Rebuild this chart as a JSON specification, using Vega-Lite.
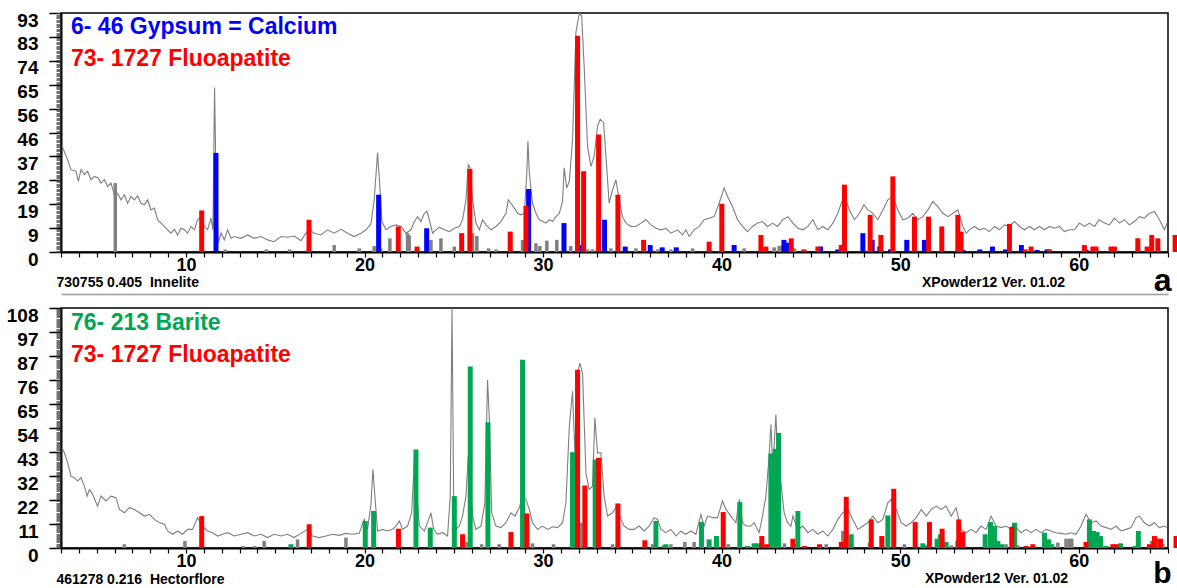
{
"$schema": "https://vega.github.io/schema/vega-lite/v6.json",
"padding": {"left": 5, "top": 10, "right": 0, "bottom": 0},
"config": {
  "font": "Liberation Sans",
  "view": {"stroke": "#000000", "strokeWidth": 1.5},
  "axis": {"labelColor": "#000000", "titleColor": "#000000", "labelFont": "Liberation Sans", "titleFont": "Liberation Sans"}
},
"datasets": {
"a_pattern": [{"t":3.06,"i":41.0},{"t":3.37,"i":35.8},{"t":3.56,"i":31.9},{"t":3.84,"i":31.3},{"t":3.97,"i":27.4},{"t":4.12,"i":31.9},{"t":4.31,"i":30.0},{"t":4.49,"i":31.3},{"t":4.68,"i":28.0},{"t":4.87,"i":29.3},{"t":5.09,"i":28.7},{"t":5.24,"i":26.7},{"t":5.43,"i":28.0},{"t":5.61,"i":25.4},{"t":5.80,"i":26.7},{"t":5.99,"i":22.2},{"t":6.17,"i":22.8},{"t":6.36,"i":20.2},{"t":6.55,"i":22.2},{"t":6.73,"i":18.9},{"t":6.92,"i":21.5},{"t":7.11,"i":20.2},{"t":7.29,"i":21.8},{"t":7.48,"i":18.9},{"t":7.67,"i":18.3},{"t":7.85,"i":20.2},{"t":8.04,"i":16.3},{"t":8.23,"i":17.0},{"t":8.41,"i":12.5},{"t":8.60,"i":11.2},{"t":8.79,"i":9.9},{"t":8.97,"i":8.6},{"t":9.16,"i":7.3},{"t":9.35,"i":8.8},{"t":9.53,"i":6.6},{"t":9.72,"i":9.2},{"t":9.91,"i":8.6},{"t":10.09,"i":7.3},{"t":10.28,"i":9.9},{"t":10.47,"i":8.6},{"t":10.65,"i":12.5},{"t":10.84,"i":13.7},{"t":11.03,"i":9.9},{"t":11.21,"i":8.6},{"t":11.40,"i":13.1},{"t":11.51,"i":8.6},{"t":11.60,"i":63.7},{"t":11.70,"i":20.2},{"t":11.81,"i":3.4},{"t":11.96,"i":7.3},{"t":12.15,"i":4.7},{"t":12.33,"i":8.6},{"t":12.52,"i":5.3},{"t":12.71,"i":6.0},{"t":13.08,"i":5.3},{"t":13.45,"i":6.6},{"t":13.82,"i":5.3},{"t":14.20,"i":6.0},{"t":14.57,"i":4.7},{"t":14.94,"i":4.0},{"t":15.32,"i":6.0},{"t":15.69,"i":5.7},{"t":16.06,"i":6.2},{"t":16.44,"i":4.4},{"t":16.72,"i":7.3},{"t":16.90,"i":8.6},{"t":17.18,"i":7.3},{"t":17.56,"i":6.6},{"t":17.93,"i":8.6},{"t":18.30,"i":7.3},{"t":18.68,"i":8.8},{"t":19.05,"i":7.3},{"t":19.42,"i":6.0},{"t":19.80,"i":7.3},{"t":20.08,"i":8.6},{"t":20.36,"i":10.9},{"t":20.54,"i":20.2},{"t":20.73,"i":38.4},{"t":20.86,"i":25.4},{"t":20.97,"i":11.8},{"t":21.20,"i":8.6},{"t":21.48,"i":9.9},{"t":21.76,"i":10.5},{"t":22.04,"i":9.9},{"t":22.32,"i":7.3},{"t":22.60,"i":8.6},{"t":22.79,"i":11.8},{"t":22.97,"i":13.7},{"t":23.16,"i":11.8},{"t":23.35,"i":15.0},{"t":23.50,"i":15.7},{"t":23.63,"i":12.5},{"t":23.81,"i":7.3},{"t":24.00,"i":8.6},{"t":24.19,"i":9.6},{"t":24.47,"i":8.6},{"t":24.75,"i":7.9},{"t":25.03,"i":9.2},{"t":25.31,"i":9.9},{"t":25.49,"i":12.5},{"t":25.68,"i":20.2},{"t":25.81,"i":33.9},{"t":25.92,"i":32.6},{"t":26.05,"i":20.2},{"t":26.24,"i":11.2},{"t":26.43,"i":8.6},{"t":26.61,"i":12.5},{"t":26.80,"i":10.5},{"t":27.08,"i":8.6},{"t":27.36,"i":9.9},{"t":27.64,"i":11.8},{"t":27.92,"i":15.0},{"t":28.05,"i":20.2},{"t":28.20,"i":18.9},{"t":28.39,"i":17.0},{"t":28.57,"i":15.0},{"t":28.76,"i":14.4},{"t":28.95,"i":15.0},{"t":29.09,"i":30.6},{"t":29.15,"i":42.9},{"t":29.23,"i":30.6},{"t":29.41,"i":18.9},{"t":29.60,"i":15.0},{"t":29.79,"i":12.5},{"t":29.97,"i":11.8},{"t":30.16,"i":11.2},{"t":30.35,"i":12.5},{"t":30.53,"i":11.8},{"t":30.72,"i":13.7},{"t":30.91,"i":15.0},{"t":31.09,"i":19.6},{"t":31.18,"i":32.6},{"t":31.32,"i":24.8},{"t":31.47,"i":27.4},{"t":31.65,"i":43.6},{"t":31.84,"i":85.1},{"t":32.03,"i":92.5},{"t":32.16,"i":91.5},{"t":32.30,"i":72.1},{"t":32.49,"i":41.0},{"t":32.68,"i":33.2},{"t":32.86,"i":37.1},{"t":33.05,"i":48.8},{"t":33.20,"i":51.4},{"t":33.39,"i":50.1},{"t":33.52,"i":37.1},{"t":33.70,"i":18.9},{"t":33.89,"i":24.1},{"t":34.08,"i":28.0},{"t":34.26,"i":20.2},{"t":34.45,"i":13.7},{"t":34.64,"i":11.2},{"t":34.92,"i":9.9},{"t":35.20,"i":9.9},{"t":35.48,"i":11.2},{"t":35.76,"i":12.5},{"t":36.04,"i":10.5},{"t":36.32,"i":9.2},{"t":36.60,"i":8.6},{"t":36.88,"i":9.2},{"t":37.16,"i":7.3},{"t":37.53,"i":8.6},{"t":37.81,"i":6.6},{"t":38.00,"i":8.6},{"t":38.18,"i":6.0},{"t":38.46,"i":8.6},{"t":38.74,"i":9.9},{"t":39.02,"i":12.5},{"t":39.30,"i":13.1},{"t":39.58,"i":13.7},{"t":39.86,"i":18.9},{"t":40.14,"i":24.8},{"t":40.33,"i":21.5},{"t":40.61,"i":17.6},{"t":40.89,"i":12.5},{"t":41.17,"i":9.9},{"t":41.45,"i":7.9},{"t":41.73,"i":9.9},{"t":42.01,"i":11.2},{"t":42.29,"i":11.8},{"t":42.57,"i":9.9},{"t":42.85,"i":11.2},{"t":43.13,"i":9.9},{"t":43.43,"i":12.5},{"t":43.71,"i":13.7},{"t":43.99,"i":11.2},{"t":44.27,"i":9.2},{"t":44.55,"i":8.6},{"t":44.83,"i":9.9},{"t":45.11,"i":12.5},{"t":45.39,"i":8.6},{"t":45.67,"i":9.9},{"t":45.95,"i":8.6},{"t":46.23,"i":11.2},{"t":46.51,"i":15.0},{"t":46.70,"i":18.9},{"t":46.88,"i":21.5},{"t":47.16,"i":16.3},{"t":47.44,"i":12.5},{"t":47.72,"i":15.0},{"t":47.97,"i":18.3},{"t":48.19,"i":16.3},{"t":48.47,"i":15.0},{"t":48.75,"i":12.5},{"t":49.03,"i":16.3},{"t":49.31,"i":20.2},{"t":49.59,"i":21.5},{"t":49.87,"i":16.3},{"t":50.15,"i":12.5},{"t":50.43,"i":13.1},{"t":50.71,"i":15.0},{"t":50.99,"i":12.5},{"t":51.27,"i":13.7},{"t":51.55,"i":16.3},{"t":51.83,"i":19.6},{"t":52.11,"i":17.6},{"t":52.39,"i":15.0},{"t":52.67,"i":13.7},{"t":52.95,"i":15.0},{"t":53.23,"i":16.3},{"t":53.51,"i":9.9},{"t":53.70,"i":7.3},{"t":53.88,"i":8.6},{"t":54.16,"i":9.9},{"t":54.44,"i":8.6},{"t":54.72,"i":9.2},{"t":55.00,"i":7.9},{"t":55.28,"i":9.9},{"t":55.56,"i":8.6},{"t":55.84,"i":10.5},{"t":56.12,"i":9.9},{"t":56.40,"i":11.8},{"t":56.68,"i":9.9},{"t":56.96,"i":8.6},{"t":57.24,"i":9.9},{"t":57.52,"i":8.6},{"t":57.80,"i":9.9},{"t":58.08,"i":8.6},{"t":58.36,"i":9.9},{"t":58.64,"i":9.2},{"t":58.92,"i":9.9},{"t":59.20,"i":7.9},{"t":59.48,"i":8.6},{"t":59.76,"i":8.6},{"t":60.04,"i":11.2},{"t":60.32,"i":9.9},{"t":60.60,"i":11.2},{"t":60.88,"i":9.9},{"t":61.16,"i":12.5},{"t":61.44,"i":11.2},{"t":61.72,"i":10.5},{"t":62.00,"i":13.1},{"t":62.28,"i":11.2},{"t":62.56,"i":12.5},{"t":62.84,"i":10.5},{"t":63.12,"i":11.8},{"t":63.40,"i":13.7},{"t":63.68,"i":13.1},{"t":63.96,"i":15.0},{"t":64.24,"i":15.7},{"t":64.52,"i":12.5},{"t":64.80,"i":8.6},{"t":64.95,"i":11.2}],
"a_ref": [{"t":6.04,"i":26.7},{"t":12.2,"i":1.0},{"t":14.5,"i":1.0},{"t":15.8,"i":1.0},{"t":16.8,"i":0.8},{"t":18.30,"i":2.7},{"t":19.7,"i":1.4},{"t":20.54,"i":2.3},{"t":20.9,"i":1.4},{"t":21.42,"i":5.3},{"t":22.41,"i":7.3},{"t":22.50,"i":6.5},{"t":23.72,"i":4.7},{"t":24.28,"i":5.3},{"t":25.03,"i":2.1},{"t":26.05,"i":7.3},{"t":26.29,"i":6.2},{"t":26.95,"i":1.4},{"t":27.36,"i":1.0},{"t":28.85,"i":4.7},{"t":29.60,"i":3.4},{"t":29.82,"i":2.3},{"t":30.21,"i":4.4},{"t":30.77,"i":4.7},{"t":31.55,"i":2.3},{"t":32.49,"i":1.0},{"t":32.77,"i":1.0},{"t":33.80,"i":1.4},{"t":35.20,"i":1.4},{"t":36.41,"i":1.0},{"t":37.16,"i":1.0},{"t":38.37,"i":1.4},{"t":41.26,"i":1.4},{"t":42.94,"i":1.8},{"t":43.22,"i":2.3},{"t":43.41,"i":2.7},{"t":44.08,"i":1.4}],
"a_peaks": [{"t":11.68,"i":38.4,"phase":"Gypsum"},{"t":20.79,"i":22.2,"phase":"Gypsum"},{"t":23.48,"i":9.2,"phase":"Gypsum"},{"t":29.19,"i":24.4,"phase":"Gypsum"},{"t":31.17,"i":11.2,"phase":"Gypsum"},{"t":32.06,"i":2.7,"phase":"Gypsum"},{"t":33.44,"i":12.5,"phase":"Gypsum"},{"t":34.60,"i":2.1,"phase":"Gypsum"},{"t":36.00,"i":2.7,"phase":"Gypsum"},{"t":36.67,"i":1.8,"phase":"Gypsum"},{"t":37.46,"i":1.8,"phase":"Gypsum"},{"t":40.70,"i":2.7,"phase":"Gypsum"},{"t":43.49,"i":4.7,"phase":"Gypsum"},{"t":43.69,"i":3.6,"phase":"Gypsum"},{"t":45.54,"i":2.1,"phase":"Gypsum"},{"t":46.51,"i":1.0,"phase":"Gypsum"},{"t":47.91,"i":7.3,"phase":"Gypsum"},{"t":48.43,"i":4.7,"phase":"Gypsum"},{"t":48.86,"i":2.1,"phase":"Gypsum"},{"t":49.46,"i":1.0,"phase":"Gypsum"},{"t":50.37,"i":4.7,"phase":"Gypsum"},{"t":51.36,"i":4.7,"phase":"Gypsum"},{"t":53.51,"i":0.8,"phase":"Gypsum"},{"t":54.46,"i":1.0,"phase":"Gypsum"},{"t":55.17,"i":2.1,"phase":"Gypsum"},{"t":55.90,"i":1.0,"phase":"Gypsum"},{"t":56.79,"i":2.7,"phase":"Gypsum"},{"t":57.67,"i":0.8,"phase":"Gypsum"},{"t":58.23,"i":1.0,"phase":"Gypsum"},{"t":60.41,"i":0.8,"phase":"Gypsum"},{"t":60.92,"i":0.8,"phase":"Gypsum"},
{"t":10.88,"i":16.1,"phase":"Fluoapatite"},{"t":16.89,"i":12.5,"phase":"Fluoapatite"},{"t":21.89,"i":9.9,"phase":"Fluoapatite"},{"t":22.94,"i":2.1,"phase":"Fluoapatite"},{"t":25.44,"i":7.3,"phase":"Fluoapatite"},{"t":25.90,"i":32.2,"phase":"Fluoapatite"},{"t":28.16,"i":7.9,"phase":"Fluoapatite"},{"t":29.04,"i":17.9,"phase":"Fluoapatite"},{"t":31.93,"i":83.8,"phase":"Fluoapatite"},{"t":32.27,"i":31.3,"phase":"Fluoapatite"},{"t":33.11,"i":45.5,"phase":"Fluoapatite"},{"t":34.19,"i":22.2,"phase":"Fluoapatite"},{"t":35.63,"i":4.7,"phase":"Fluoapatite"},{"t":39.30,"i":4.0,"phase":"Fluoapatite"},{"t":40.01,"i":18.7,"phase":"Fluoapatite"},{"t":42.20,"i":6.6,"phase":"Fluoapatite"},{"t":42.48,"i":2.1,"phase":"Fluoapatite"},{"t":43.90,"i":5.3,"phase":"Fluoapatite"},{"t":44.61,"i":1.0,"phase":"Fluoapatite"},{"t":45.39,"i":2.1,"phase":"Fluoapatite"},{"t":46.70,"i":2.7,"phase":"Fluoapatite"},{"t":46.88,"i":26.1,"phase":"Fluoapatite"},{"t":48.32,"i":14.4,"phase":"Fluoapatite"},{"t":48.92,"i":6.6,"phase":"Fluoapatite"},{"t":49.59,"i":29.3,"phase":"Fluoapatite"},{"t":50.80,"i":13.7,"phase":"Fluoapatite"},{"t":51.59,"i":13.7,"phase":"Fluoapatite"},{"t":52.33,"i":9.9,"phase":"Fluoapatite"},{"t":53.23,"i":14.4,"phase":"Fluoapatite"},{"t":53.41,"i":7.9,"phase":"Fluoapatite"},{"t":56.12,"i":10.9,"phase":"Fluoapatite"},{"t":57.00,"i":1.0,"phase":"Fluoapatite"},{"t":57.33,"i":2.1,"phase":"Fluoapatite"},{"t":58.36,"i":1.0,"phase":"Fluoapatite"},{"t":60.32,"i":2.7,"phase":"Fluoapatite"},{"t":60.79,"i":2.1,"phase":"Fluoapatite"},{"t":60.97,"i":2.1,"phase":"Fluoapatite"},{"t":61.81,"i":2.1,"phase":"Fluoapatite"},{"t":62.00,"i":2.1,"phase":"Fluoapatite"},{"t":63.31,"i":5.3,"phase":"Fluoapatite"},{"t":63.83,"i":2.1,"phase":"Fluoapatite"},{"t":64.09,"i":6.6,"phase":"Fluoapatite"},{"t":64.43,"i":5.3,"phase":"Fluoapatite"},{"t":65.40,"i":6.6,"phase":"Fluoapatite"}],
"b_pattern": [{"t":3.06,"i":45.2},{"t":3.19,"i":42.9},{"t":3.37,"i":38.4},{"t":3.56,"i":32.4},{"t":3.75,"i":31.7},{"t":3.93,"i":30.2},{"t":4.12,"i":31.7},{"t":4.31,"i":27.9},{"t":4.46,"i":23.4},{"t":4.59,"i":26.4},{"t":4.77,"i":24.2},{"t":5.05,"i":18.9},{"t":5.24,"i":23.4},{"t":5.52,"i":21.2},{"t":5.80,"i":23.4},{"t":6.08,"i":22.7},{"t":6.27,"i":17.4},{"t":6.55,"i":15.9},{"t":6.83,"i":18.2},{"t":7.11,"i":17.4},{"t":7.39,"i":15.9},{"t":7.67,"i":14.4},{"t":7.95,"i":15.2},{"t":8.23,"i":12.9},{"t":8.51,"i":11.4},{"t":8.79,"i":10.7},{"t":8.97,"i":7.7},{"t":9.25,"i":6.2},{"t":9.53,"i":7.7},{"t":9.81,"i":6.2},{"t":10.09,"i":8.4},{"t":10.37,"i":8.4},{"t":10.65,"i":13.7},{"t":10.93,"i":9.9},{"t":11.21,"i":7.7},{"t":11.49,"i":6.9},{"t":11.77,"i":5.4},{"t":12.05,"i":6.2},{"t":12.33,"i":6.9},{"t":12.71,"i":5.4},{"t":13.08,"i":6.2},{"t":13.45,"i":6.9},{"t":13.82,"i":5.4},{"t":14.20,"i":6.2},{"t":14.57,"i":4.7},{"t":14.94,"i":6.2},{"t":15.32,"i":5.4},{"t":15.69,"i":6.2},{"t":16.06,"i":4.7},{"t":16.44,"i":6.6},{"t":16.81,"i":8.4},{"t":17.09,"i":5.4},{"t":17.46,"i":4.7},{"t":17.84,"i":5.4},{"t":18.21,"i":6.2},{"t":18.58,"i":5.7},{"t":18.96,"i":6.6},{"t":19.33,"i":6.2},{"t":19.70,"i":6.6},{"t":19.98,"i":12.9},{"t":20.17,"i":8.4},{"t":20.36,"i":19.7},{"t":20.47,"i":35.4},{"t":20.58,"i":23.4},{"t":20.73,"i":7.7},{"t":21.01,"i":8.4},{"t":21.29,"i":7.7},{"t":21.57,"i":8.4},{"t":21.76,"i":9.9},{"t":21.95,"i":12.2},{"t":22.13,"i":8.4},{"t":22.41,"i":9.9},{"t":22.64,"i":15.9},{"t":22.82,"i":44.4},{"t":22.94,"i":23.4},{"t":23.07,"i":9.9},{"t":23.35,"i":7.7},{"t":23.63,"i":13.7},{"t":23.72,"i":15.9},{"t":23.87,"i":8.4},{"t":24.09,"i":6.2},{"t":24.37,"i":6.9},{"t":24.65,"i":5.4},{"t":24.80,"i":23.4},{"t":24.90,"i":108},{"t":24.99,"i":23.4},{"t":25.12,"i":8.4},{"t":25.31,"i":9.9},{"t":25.49,"i":14.4},{"t":25.68,"i":23.4},{"t":25.81,"i":41.4},{"t":25.92,"i":29.4},{"t":26.05,"i":14.4},{"t":26.24,"i":8.4},{"t":26.52,"i":9.9},{"t":26.74,"i":20.4},{"t":26.89,"i":75.9},{"t":27.00,"i":56.4},{"t":27.12,"i":15.9},{"t":27.36,"i":9.9},{"t":27.64,"i":9.2},{"t":27.92,"i":11.4},{"t":28.20,"i":15.9},{"t":28.42,"i":14.4},{"t":28.67,"i":18.2},{"t":28.85,"i":23.4},{"t":29.04,"i":21.9},{"t":29.23,"i":17.4},{"t":29.41,"i":11.4},{"t":29.69,"i":8.4},{"t":29.97,"i":9.9},{"t":30.25,"i":8.4},{"t":30.53,"i":9.6},{"t":30.81,"i":9.2},{"t":31.09,"i":11.4},{"t":31.28,"i":20.4},{"t":31.47,"i":54.9},{"t":31.65,"i":70.7},{"t":31.78,"i":42.9},{"t":31.93,"i":78.9},{"t":32.06,"i":83.4},{"t":32.21,"i":78.9},{"t":32.40,"i":33.9},{"t":32.58,"i":26.4},{"t":32.77,"i":27.9},{"t":32.90,"i":58.7},{"t":33.05,"i":42.9},{"t":33.24,"i":42.9},{"t":33.42,"i":23.4},{"t":33.61,"i":14.4},{"t":33.89,"i":15.9},{"t":34.13,"i":18.9},{"t":34.36,"i":12.9},{"t":34.54,"i":9.9},{"t":34.82,"i":8.4},{"t":35.10,"i":8.4},{"t":35.38,"i":9.9},{"t":35.66,"i":7.7},{"t":35.94,"i":9.9},{"t":36.22,"i":13.7},{"t":36.41,"i":12.9},{"t":36.60,"i":8.4},{"t":36.88,"i":6.9},{"t":37.16,"i":8.4},{"t":37.44,"i":5.4},{"t":37.72,"i":7.7},{"t":37.99,"i":6.2},{"t":38.28,"i":7.7},{"t":38.56,"i":6.2},{"t":38.84,"i":15.2},{"t":39.02,"i":9.9},{"t":39.21,"i":14.4},{"t":39.49,"i":13.7},{"t":39.77,"i":13.7},{"t":40.05,"i":21.2},{"t":40.24,"i":17.4},{"t":40.52,"i":14.4},{"t":40.80,"i":11.4},{"t":40.99,"i":21.9},{"t":41.17,"i":11.4},{"t":41.36,"i":9.9},{"t":41.64,"i":9.9},{"t":41.82,"i":11.4},{"t":42.10,"i":6.9},{"t":42.29,"i":14.4},{"t":42.48,"i":23.4},{"t":42.66,"i":41.4},{"t":42.76,"i":55.7},{"t":42.85,"i":38.4},{"t":42.94,"i":45.9},{"t":43.04,"i":60.2},{"t":43.13,"i":42.9},{"t":43.32,"i":29.4},{"t":43.50,"i":15.9},{"t":43.69,"i":11.4},{"t":43.88,"i":9.9},{"t":43.99,"i":14.4},{"t":44.27,"i":8.4},{"t":44.55,"i":9.9},{"t":44.83,"i":6.9},{"t":45.11,"i":8.4},{"t":45.39,"i":6.2},{"t":45.67,"i":7.7},{"t":45.95,"i":5.4},{"t":46.23,"i":8.4},{"t":46.51,"i":12.9},{"t":46.79,"i":15.9},{"t":47.07,"i":17.4},{"t":47.35,"i":12.9},{"t":47.63,"i":8.4},{"t":47.91,"i":9.9},{"t":48.19,"i":11.4},{"t":48.47,"i":14.4},{"t":48.75,"i":11.4},{"t":49.03,"i":12.9},{"t":49.31,"i":20.4},{"t":49.50,"i":21.9},{"t":49.78,"i":17.4},{"t":50.06,"i":11.4},{"t":50.33,"i":9.9},{"t":50.62,"i":11.4},{"t":50.90,"i":13.7},{"t":51.18,"i":17.4},{"t":51.46,"i":14.4},{"t":51.74,"i":17.4},{"t":52.02,"i":18.9},{"t":52.30,"i":17.4},{"t":52.57,"i":18.9},{"t":52.86,"i":14.4},{"t":53.13,"i":18.2},{"t":53.41,"i":8.4},{"t":53.70,"i":6.9},{"t":53.97,"i":8.4},{"t":54.25,"i":6.9},{"t":54.53,"i":9.9},{"t":54.81,"i":8.4},{"t":55.09,"i":14.4},{"t":55.37,"i":9.9},{"t":55.66,"i":9.2},{"t":55.94,"i":9.9},{"t":56.21,"i":8.4},{"t":56.49,"i":9.2},{"t":56.77,"i":6.9},{"t":57.05,"i":8.4},{"t":57.33,"i":6.9},{"t":57.61,"i":8.4},{"t":57.89,"i":6.9},{"t":58.17,"i":8.4},{"t":58.45,"i":7.7},{"t":58.73,"i":6.9},{"t":59.01,"i":6.6},{"t":59.29,"i":6.2},{"t":59.57,"i":6.9},{"t":59.85,"i":6.2},{"t":60.13,"i":9.9},{"t":60.41,"i":15.2},{"t":60.69,"i":11.4},{"t":60.97,"i":12.2},{"t":61.25,"i":9.9},{"t":61.53,"i":9.2},{"t":61.81,"i":8.4},{"t":62.09,"i":9.9},{"t":62.37,"i":7.7},{"t":62.65,"i":8.4},{"t":62.93,"i":9.2},{"t":63.21,"i":13.7},{"t":63.40,"i":14.4},{"t":63.68,"i":11.4},{"t":63.96,"i":9.9},{"t":64.24,"i":11.4},{"t":64.52,"i":9.2},{"t":64.80,"i":9.9},{"t":64.93,"i":9.2}],
"b_ref": [{"t":6.55,"i":1.7},{"t":9.94,"i":3.2},{"t":13.2,"i":0.9},{"t":13.85,"i":0.9},{"t":14.38,"i":3.2},{"t":16.25,"i":3.9},{"t":18.96,"i":4.7},{"t":25.74,"i":2.7},{"t":26.56,"i":1.7},{"t":27.54,"i":1.7},{"t":29.41,"i":2.1},{"t":30.59,"i":1.7},{"t":32.12,"i":11.4},{"t":33.89,"i":1.7},{"t":36.13,"i":1.7},{"t":37.16,"i":1.7},{"t":37.94,"i":2.7},{"t":38.46,"i":2.7},{"t":40.37,"i":1.7},{"t":43.52,"i":2.1},{"t":44.08,"i":1.7},{"t":45.86,"i":1.7},{"t":46.79,"i":7.7},{"t":48.28,"i":2.4},{"t":50.24,"i":1.7},{"t":52.86,"i":1.2},{"t":55.93,"i":1.7},{"t":56.59,"i":1.2},{"t":58.83,"i":2.4},{"t":59.29,"i":4.2},{"t":59.48,"i":4.2},{"t":59.61,"i":4.2},{"t":64.71,"i":1.7}],
"b_peaks": [{"t":15.88,"i":1.7,"phase":"Barite"},{"t":20.04,"i":12.2,"phase":"Barite"},{"t":20.51,"i":16.7,"phase":"Barite"},{"t":22.88,"i":44.4,"phase":"Barite"},{"t":23.68,"i":9.2,"phase":"Barite"},{"t":25.03,"i":23.4,"phase":"Barite"},{"t":25.92,"i":81.9,"phase":"Barite"},{"t":26.91,"i":56.7,"phase":"Barite"},{"t":28.85,"i":84.9,"phase":"Barite"},{"t":31.65,"i":43.2,"phase":"Barite"},{"t":32.30,"i":0.9,"phase":"Barite"},{"t":32.92,"i":39.9,"phase":"Barite"},{"t":36.32,"i":12.2,"phase":"Barite"},{"t":36.78,"i":1.2,"phase":"Barite"},{"t":36.88,"i":1.7,"phase":"Barite"},{"t":38.87,"i":11.7,"phase":"Barite"},{"t":39.30,"i":3.9,"phase":"Barite"},{"t":39.71,"i":5.4,"phase":"Barite"},{"t":41.02,"i":20.7,"phase":"Barite"},{"t":41.45,"i":0.9,"phase":"Barite"},{"t":41.82,"i":2.1,"phase":"Barite"},{"t":42.01,"i":2.1,"phase":"Barite"},{"t":42.76,"i":42.6,"phase":"Barite"},{"t":43.00,"i":44.7,"phase":"Barite"},{"t":43.19,"i":51.9,"phase":"Barite"},{"t":44.27,"i":16.7,"phase":"Barite"},{"t":47.26,"i":6.2,"phase":"Barite"},{"t":49.31,"i":14.7,"phase":"Barite"},{"t":51.27,"i":2.1,"phase":"Barite"},{"t":51.49,"i":1.2,"phase":"Barite"},{"t":52.07,"i":4.2,"phase":"Barite"},{"t":52.26,"i":6.2,"phase":"Barite"},{"t":52.57,"i":2.7,"phase":"Barite"},{"t":53.23,"i":3.2,"phase":"Barite"},{"t":53.41,"i":2.7,"phase":"Barite"},{"t":54.76,"i":6.2,"phase":"Barite"},{"t":55.06,"i":11.7,"phase":"Barite"},{"t":55.28,"i":9.9,"phase":"Barite"},{"t":55.47,"i":3.2,"phase":"Barite"},{"t":55.69,"i":1.7,"phase":"Barite"},{"t":56.40,"i":11.4,"phase":"Barite"},{"t":58.08,"i":6.9,"phase":"Barite"},{"t":58.31,"i":3.9,"phase":"Barite"},{"t":58.49,"i":1.7,"phase":"Barite"},{"t":60.60,"i":12.9,"phase":"Barite"},{"t":60.84,"i":7.7,"phase":"Barite"},{"t":61.03,"i":7.2,"phase":"Barite"},{"t":61.22,"i":5.4,"phase":"Barite"},{"t":61.53,"i":0.9,"phase":"Barite"},{"t":62.34,"i":2.1,"phase":"Barite"},{"t":63.16,"i":0.9,"phase":"Barite"},{"t":63.34,"i":7.7,"phase":"Barite"},{"t":64.15,"i":3.2,"phase":"Barite"},{"t":64.30,"i":4.7,"phase":"Barite"},
{"t":10.88,"i":14.4,"phase":"Fluoapatite"},{"t":16.90,"i":10.7,"phase":"Fluoapatite"},{"t":21.90,"i":8.7,"phase":"Fluoapatite"},{"t":25.49,"i":6.2,"phase":"Fluoapatite"},{"t":28.20,"i":7.2,"phase":"Fluoapatite"},{"t":29.09,"i":15.6,"phase":"Fluoapatite"},{"t":31.93,"i":80.4,"phase":"Fluoapatite"},{"t":32.34,"i":28.2,"phase":"Fluoapatite"},{"t":33.11,"i":40.7,"phase":"Fluoapatite"},{"t":34.19,"i":20.1,"phase":"Fluoapatite"},{"t":35.70,"i":3.5,"phase":"Fluoapatite"},{"t":40.09,"i":16.2,"phase":"Fluoapatite"},{"t":42.25,"i":5.4,"phase":"Fluoapatite"},{"t":42.53,"i":1.7,"phase":"Fluoapatite"},{"t":43.99,"i":4.2,"phase":"Fluoapatite"},{"t":44.64,"i":0.9,"phase":"Fluoapatite"},{"t":45.48,"i":1.7,"phase":"Fluoapatite"},{"t":46.70,"i":2.7,"phase":"Fluoapatite"},{"t":46.98,"i":23.1,"phase":"Fluoapatite"},{"t":48.38,"i":12.9,"phase":"Fluoapatite"},{"t":48.97,"i":5.4,"phase":"Fluoapatite"},{"t":49.64,"i":26.7,"phase":"Fluoapatite"},{"t":50.84,"i":11.7,"phase":"Fluoapatite"},{"t":51.64,"i":11.7,"phase":"Fluoapatite"},{"t":52.35,"i":8.7,"phase":"Fluoapatite"},{"t":53.28,"i":12.9,"phase":"Fluoapatite"},{"t":53.51,"i":7.2,"phase":"Fluoapatite"},{"t":56.25,"i":9.6,"phase":"Fluoapatite"},{"t":57.05,"i":0.9,"phase":"Fluoapatite"},{"t":57.43,"i":1.7,"phase":"Fluoapatite"},{"t":60.41,"i":2.7,"phase":"Fluoapatite"},{"t":61.91,"i":1.7,"phase":"Fluoapatite"},{"t":62.09,"i":1.7,"phase":"Fluoapatite"},{"t":63.96,"i":1.7,"phase":"Fluoapatite"},{"t":64.24,"i":5.4,"phase":"Fluoapatite"},{"t":64.58,"i":4.2,"phase":"Fluoapatite"},{"t":65.45,"i":5.4,"phase":"Fluoapatite"}]
},
"spacing": 8,
"vconcat": [
{
  "width": 1107, "height": 239,
  "title": {"text": "6- 46 Gypsum = Calcium", "subtitle": "73- 1727 Fluoapatite", "anchor": "start", "frame": "group", "orient": "top", "offset": -60, "dx": 10, "color": "#0000ff", "subtitleColor": "#ff0000", "fontSize": 23, "subtitleFontSize": 23, "fontWeight": "bold", "subtitleFontWeight": "bold", "font": "Liberation Sans", "subtitleFont": "Liberation Sans", "subtitlePadding": 9},
  "resolve": {"axis": {"x": "independent", "y": "independent"}},
  "layer": [
    {
      "data": {"name": "a_ref"},
      "mark": {"type": "rule", "color": "#808080", "strokeWidth": 3.5},
      "encoding": {
        "x": {"field": "t", "type": "quantitative", "scale": {"domain": [3, 65], "nice": false, "zero": false},
              "axis": {"orient": "bottom", "labels": false, "ticks": false, "domain": false, "grid": false, "title": "a", "titleAlign": "right", "titleAnchor": "start", "titleX": 1110, "titleY": 38, "titleBaseline": "alphabetic", "titleFontSize": 32, "titleFontWeight": "bold"}},
        "y": {"field": "i", "type": "quantitative", "scale": {"domain": [0, 92.6], "nice": false}, "axis": null},
        "y2": {"datum": 0}
      }
    },
    {
      "data": {"name": "a_pattern"},
      "mark": {"type": "line", "color": "#7f7f7f", "strokeWidth": 1.1},
      "encoding": {
        "x": {"field": "t", "type": "quantitative",
              "axis": {"orient": "bottom", "values": [3,4,5,6,7,8,9,10,11,12,13,14,15,16,17,18,19,20,21,22,23,24,25,26,27,28,29,30,31,32,33,34,35,36,37,38,39,40,41,42,43,44,45,46,47,48,49,50,51,52,53,54,55,56,57,58,59,60,61,62,63,64,65], "labelExpr": "datum.value % 10 === 0 ? datum.label : ''", "labelOverlap": false, "labelFlush": false, "tickSize": 5, "tickWidth": 1.2, "tickColor": "#000000", "labelPadding": -1, "labelFontSize": 18, "labelFontWeight": "bold", "domain": true, "domainColor": "#000000", "domainWidth": 2, "grid": false, "title": "730755 0.405\u00a0 Innelite", "titleAnchor": "start", "titleAlign": "left", "titleX": -5, "titleY": 34, "titleBaseline": "alphabetic", "titleFontSize": 14, "titleFontWeight": "bold"}},
        "y": {"field": "i", "type": "quantitative",
              "axis": {"orient": "left", "values": [0, 9.26, 18.52, 27.78, 37.04, 46.3, 55.56, 64.82, 74.08, 83.34, 92.6], "format": ".0f", "tickSize": 12, "tickWidth": 1.5, "tickColor": "#000000", "labelPadding": 11, "labelOffset": 7, "labelFontSize": 19, "labelFontWeight": "bold", "labelFlush": false, "labelOverlap": false, "domain": true, "domainWidth": 2, "domainColor": "#000000", "grid": false, "title": null}}
      }
    },
    {
      "data": {"name": "a_peaks"},
      "transform": [{"filter": "datum.phase === 'Gypsum'"}],
      "mark": {"type": "rule", "strokeWidth": 5},
      "encoding": {
        "x": {"field": "t", "type": "quantitative",
              "axis": {"orient": "bottom", "labels": false, "ticks": false, "domain": false, "grid": false, "title": "XPowder12 Ver. 01.02", "titleAlign": "center", "titleAnchor": "start", "titleX": 932, "titleY": 34, "titleBaseline": "alphabetic", "titleFontSize": 14, "titleFontWeight": "bold"}},
        "y": {"field": "i", "type": "quantitative",
              "axis": {"orient": "left", "tickCount": 200, "labels": false, "domain": false, "grid": false, "tickSize": 5, "tickWidth": 0.7, "tickColor": "#333333", "title": null}},
        "y2": {"datum": 0},
        "color": {"field": "phase", "type": "nominal", "scale": {"domain": ["Gypsum", "Fluoapatite", "Barite"], "range": ["#0000ff", "#ff0000", "#00a651"]}, "legend": null}
      }
    },
    {
      "data": {"name": "a_peaks"},
      "transform": [{"filter": "datum.phase === 'Fluoapatite'"}],
      "mark": {"type": "rule", "strokeWidth": 5},
      "encoding": {
        "x": {"field": "t", "type": "quantitative",
              "axis": {"orient": "bottom", "offset": 42, "labels": false, "ticks": false, "domain": true, "domainColor": "#9a9a9a", "domainWidth": 1.5, "grid": false, "title": null}},
        "y": {"field": "i", "type": "quantitative", "axis": null},
        "y2": {"datum": 0},
        "color": {"field": "phase", "type": "nominal", "legend": null}
      }
    }
  ]
},
{
  "width": 1107, "height": 240,
  "title": {"text": "76- 213 Barite", "subtitle": "73- 1727 Fluoapatite", "anchor": "start", "frame": "group", "orient": "top", "offset": -61, "dx": 10, "color": "#00a651", "subtitleColor": "#ff0000", "fontSize": 23, "subtitleFontSize": 23, "fontWeight": "bold", "subtitleFontWeight": "bold", "font": "Liberation Sans", "subtitleFont": "Liberation Sans", "subtitlePadding": 9},
  "resolve": {"axis": {"x": "independent", "y": "independent"}},
  "layer": [
    {
      "data": {"name": "b_ref"},
      "mark": {"type": "rule", "color": "#808080", "strokeWidth": 3.5},
      "encoding": {
        "x": {"field": "t", "type": "quantitative", "scale": {"domain": [3, 65], "nice": false, "zero": false},
              "axis": {"orient": "bottom", "labels": false, "ticks": false, "domain": false, "grid": false, "title": "b", "titleAlign": "right", "titleAnchor": "start", "titleX": 1110, "titleY": 34, "titleBaseline": "alphabetic", "titleFontSize": 30, "titleFontWeight": "bold"}},
        "y": {"field": "i", "type": "quantitative", "scale": {"domain": [0, 108.25], "nice": false}, "axis": null},
        "y2": {"datum": 0}
      }
    },
    {
      "data": {"name": "b_pattern"},
      "mark": {"type": "line", "color": "#7f7f7f", "strokeWidth": 1.1},
      "encoding": {
        "x": {"field": "t", "type": "quantitative",
              "axis": {"orient": "bottom", "values": [3,4,5,6,7,8,9,10,11,12,13,14,15,16,17,18,19,20,21,22,23,24,25,26,27,28,29,30,31,32,33,34,35,36,37,38,39,40,41,42,43,44,45,46,47,48,49,50,51,52,53,54,55,56,57,58,59,60,61,62,63,64,65], "labelExpr": "datum.value % 10 === 0 ? datum.label : ''", "labelOverlap": false, "labelFlush": false, "tickSize": 5, "tickWidth": 1.2, "tickColor": "#000000", "labelPadding": -1, "labelFontSize": 18, "labelFontWeight": "bold", "domain": true, "domainColor": "#000000", "domainWidth": 2, "grid": false, "title": "461278 0.216\u00a0 Hectorflore", "titleAnchor": "start", "titleAlign": "left", "titleX": -5, "titleY": 35, "titleBaseline": "alphabetic", "titleFontSize": 14, "titleFontWeight": "bold"}},
        "y": {"field": "i", "type": "quantitative",
              "axis": {"orient": "left", "values": [0, 10.825, 21.65, 32.475, 43.3, 54.125, 64.95, 75.775, 86.6, 97.425, 108.25], "format": ".0f", "tickSize": 12, "tickWidth": 1.5, "tickColor": "#000000", "labelPadding": 11, "labelOffset": 7, "labelFontSize": 19, "labelFontWeight": "bold", "labelFlush": false, "labelOverlap": false, "domain": true, "domainWidth": 2, "domainColor": "#000000", "grid": false, "title": null}}
      }
    },
    {
      "data": {"name": "b_peaks"},
      "mark": {"type": "rule", "strokeWidth": 5},
      "encoding": {
        "x": {"field": "t", "type": "quantitative",
              "axis": {"orient": "bottom", "labels": false, "ticks": false, "domain": false, "grid": false, "title": "XPowder12 Ver. 01.02", "titleAlign": "center", "titleAnchor": "start", "titleX": 935, "titleY": 34, "titleBaseline": "alphabetic", "titleFontSize": 14, "titleFontWeight": "bold"}},
        "y": {"field": "i", "type": "quantitative",
              "axis": {"orient": "left", "tickCount": 200, "labels": false, "domain": false, "grid": false, "tickSize": 5, "tickWidth": 0.7, "tickColor": "#333333", "title": null}},
        "y2": {"datum": 0},
        "color": {"field": "phase", "type": "nominal", "scale": {"domain": ["Gypsum", "Fluoapatite", "Barite"], "range": ["#0000ff", "#ff0000", "#00a651"]}, "legend": null}
      }
    }
  ]
}
]
}
